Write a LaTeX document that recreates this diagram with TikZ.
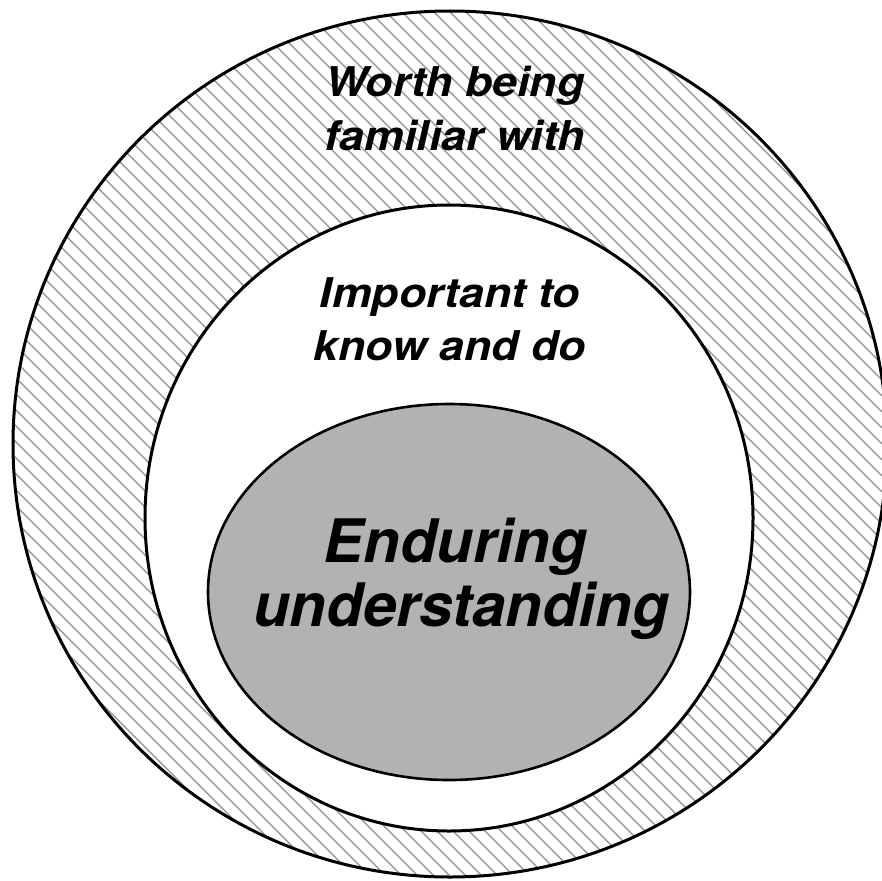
\documentclass[tikz,border=0pt]{standalone}
\usepackage{fontspec}
\setmainfont{TeX Gyre Heros}
\newfontfamily\labfont[FakeStretch=1.09]{TeX Gyre Heros}
\begin{document}
\begin{tikzpicture}[x=1pt,y=-1pt,
  ringline/.style={line width=3pt,draw=black},
  hatchline/.style={line width=1.3pt,draw=black!45},
  smalltext/.style={font=\labfont\fontsize{41}{50}\selectfont\bfseries\itshape,anchor=base,inner sep=0pt},
  bigtext/.style={font=\fontsize{60}{66}\selectfont\bfseries\itshape,anchor=base,inner sep=0pt}]
\definecolor{coregray}{RGB}{178,178,178}
\useasboundingbox (0,0) rectangle (882,880);
% hatched outer ring
\begin{scope}
  \clip (450,444) ellipse [x radius=437, y radius=433];
  \foreach \i in {-900,-884,...,900}
    \draw[hatchline] (\i,-10) -- (\i+900,890);
\end{scope}
\fill[white] (449,518) ellipse [x radius=304, y radius=313];
\draw[ringline] (450,444) ellipse [x radius=437, y radius=433];
\draw[ringline] (449,518) ellipse [x radius=304, y radius=313];
\draw[line width=2.6pt,fill=coregray] (449,592) ellipse [x radius=241, y radius=188];
% texts
\node[smalltext] (w1) at (455,97) {Worth being};
\node[smalltext] (w2) at (455,150) {familiar with};
\node[smalltext] (i1) at (450,307) {Important to};
\node[smalltext] (i2) at (450,360) {know and do};
\node[bigtext] (e1) at (455,562) {Enduring};
\node[bigtext] (e2) at (461,626) {understanding};
\end{tikzpicture}
\end{document}
